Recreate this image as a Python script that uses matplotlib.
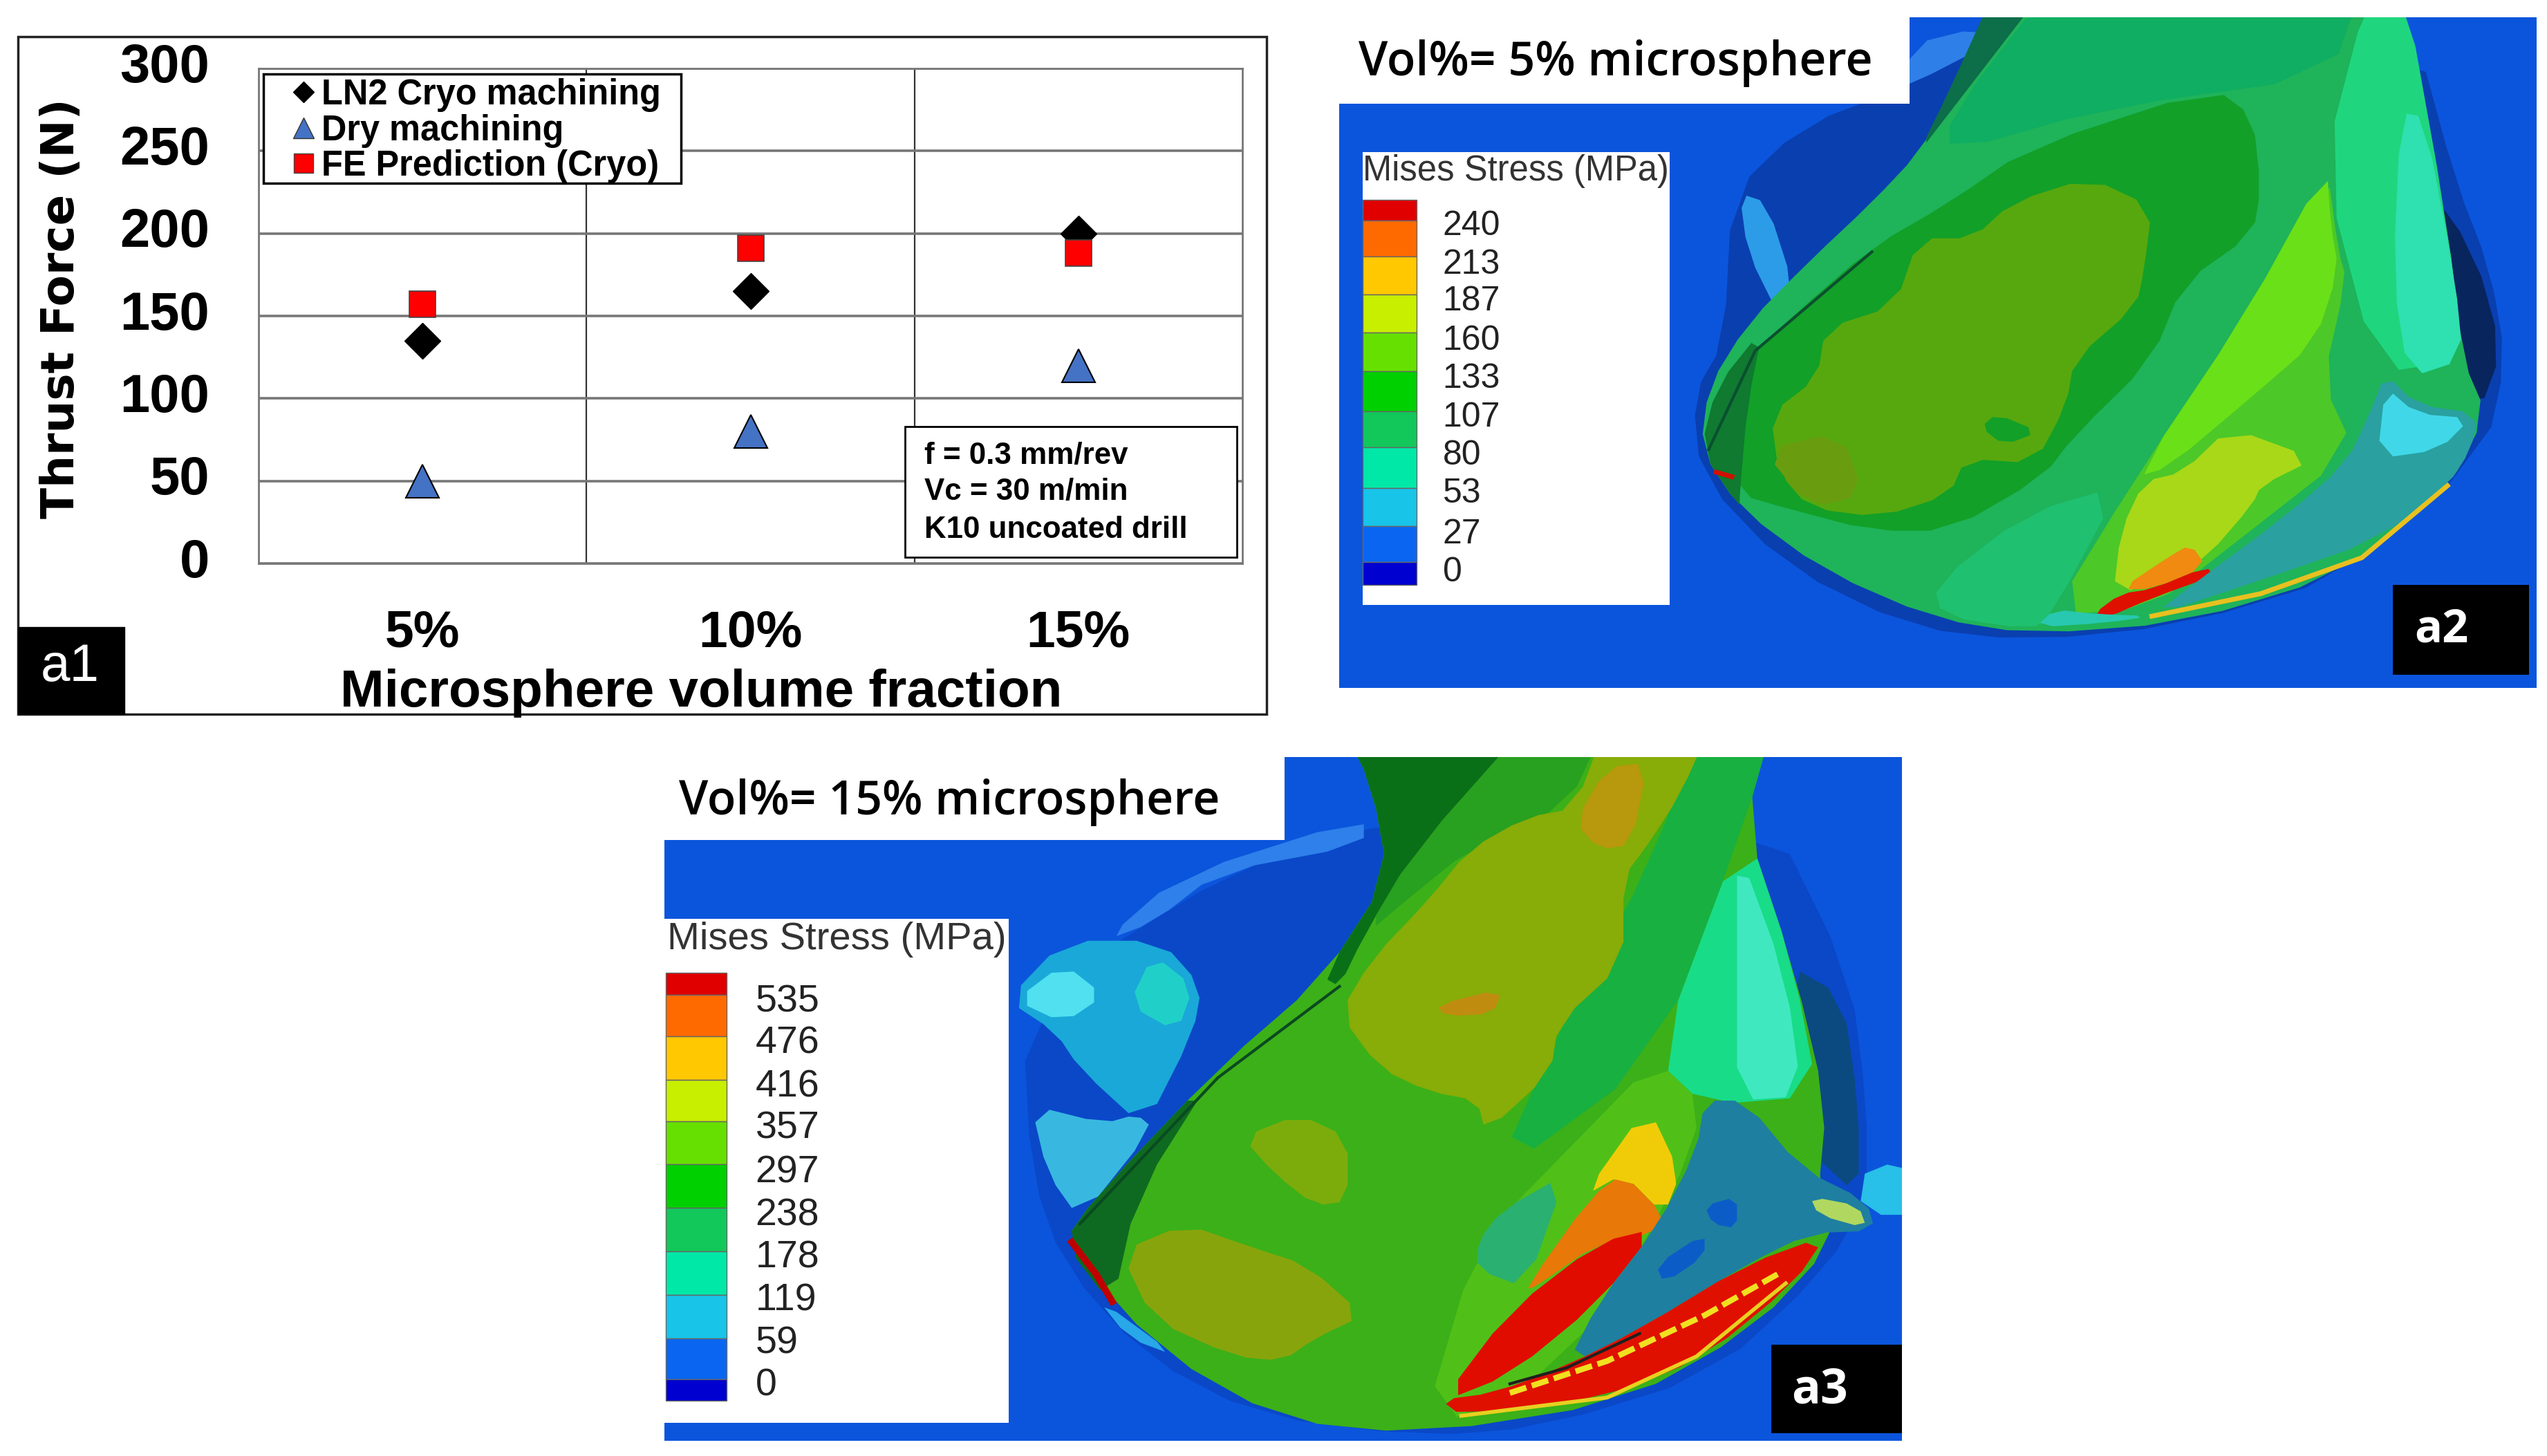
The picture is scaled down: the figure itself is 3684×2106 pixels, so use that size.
import matplotlib
matplotlib.use("Agg")
import matplotlib.pyplot as plt
from matplotlib.lines import Line2D
from matplotlib.patches import Polygon, Rectangle
from matplotlib.transforms import Affine2D, ScaledTranslation

# chart values
fractions = ["5%", "10%", "15%"]
cryo = [135, 165, 200]
dry = [50, 80, 120]
fe = [157, 191, 188]
yticks = [0, 50, 100, 150, 200, 250, 300]

# stress scales
stress_colors = ["#e00000", "#ff6a00", "#ffc800", "#c8ee00", "#66e000", "#00d000",
                 "#12c85a", "#00e8a8", "#18c4e8", "#0a66f0", "#0000d0"]
stress_a2 = [240, 213, 187, 160, 133, 107, 80, 53, 27, 0]
stress_a3 = [535, 476, 416, 357, 297, 238, 178, 119, 59, 0]

W, H = 3684, 2106
plt.rcParams["font.family"] = ["Liberation Sans", "DejaVu Sans"]
fig = plt.figure(figsize=(W / 100, H / 100), dpi=100)
px = Affine2D().scale(1 / W, -1 / H).translate(0, 1) + fig.transFigure

bg = fig.add_axes([0, 0, 1, 1], zorder=0)
bg.set_xlim(0, W)
bg.set_ylim(H, 0)
bg.axis("off")


def a2(p):
    return [(1920 + x * 1764 / 1568, y * 1020 / 1568) for x, y in p]


def a3(p):
    return [(940 + x * 1840 / 1568, 1070 + y * 1036 / 1568) for x, y in p]


def round_off(pts, n=1):
    # corner cutting, takes the hard edge off the FE shapes
    for _ in range(n):
        out = []
        for i, (x, y) in enumerate(pts):
            x2, y2 = pts[(i + 1) % len(pts)]
            out.append((0.75 * x + 0.25 * x2, 0.75 * y + 0.25 * y2))
            out.append((0.25 * x + 0.75 * x2, 0.25 * y + 0.75 * y2))
        pts = out
    return pts


def shape(pts, color, z=2, clip=None):
    p = Polygon(pts, closed=True, fc=color, ec=color, lw=0, zorder=z)
    bg.add_patch(p)
    if clip is not None:
        p.set_clip_path(clip)
    return p


# ---- a1 frame
bg.add_patch(Rectangle((26, 53), 1806, 980, fc="white", ec="#222222", lw=2.5, zorder=1))
bg.add_patch(Rectangle((26, 907), 154, 126, fc="black", ec="black", zorder=5))
bg.text(101, 965, "a1", color="white", fontsize=55, ha="center", va="center", zorder=6)

# ---- a2 panel
BLUE = "#0b55dc"
shape(a2([(15, 230), (748, 230), (748, 38), (1555, 38), (1555, 1530), (15, 1530)]), BLUE, 2)
xa, ya = a2([(15, 38)])[0]
xb, yb = a2([(1555, 1530)])[0]
clip2 = Rectangle((xa, ya), xb - xa, yb - ya, transform=bg.transData)
a2_layers = [
    ([(748, 100), (840, 60), (860, 110), (790, 190), (748, 230)], "#2f7fe8"),
    ([(520, 430), (610, 280), (748, 190), (860, 90), (1400, 80), (1450, 400), (1495, 600), (1515, 800),
      (1490, 1000), (1310, 1280), (1100, 1390), (900, 1425), (750, 1395), (590, 1260), (480, 1060),
      (470, 880), (510, 760)], "#0a3fb0"),
    ([(1400, 380), (1475, 560), (1510, 780), (1480, 920), (1440, 800)], "#08255e"),
    ([(530, 430), (565, 450), (600, 640), (580, 700), (540, 560)], "#2c9ce8"),
    # drill body
    ([(860, -30), (1375, -30), (1400, 180), (1440, 500), (1460, 800), (1490, 920), (1440, 1090), (1300, 1280),
      (1100, 1385), (905, 1410), (780, 1375), (640, 1270), (530, 1130), (480, 1000), (490, 860), (540, 720),
      (620, 580), (700, 450), (760, 340), (800, 220)], "#1fb35a"),
    ([(860, -30), (925, -30), (800, 250), (760, 340), (800, 200)], "#0d6e4a"),
    ([(930, -30), (1330, -30), (1290, 170), (1000, 240), (800, 340), (800, 260)], "#0fae62"),
    # right flank
    ([(1340, -30), (1385, -30), (1440, 500), (1460, 800), (1350, 830), (1280, 370)], "#1fd67e"),
    ([(1380, 250), (1410, 260), (1450, 620), (1460, 800), (1390, 840), (1370, 620)], "#2fe0b0"),
    # dark green land
    ([(900, 330), (1140, 195), (1190, 260), (1200, 420), (1190, 520), (1100, 630), (1060, 800), (960, 970),
      (920, 1060), (800, 1180), (700, 1180), (590, 1130), (530, 1100), (500, 950), (540, 800), (600, 700),
      (700, 550), (800, 450)], "#12a028"),
    # olive land
    ([(980, 395), (1060, 460), (1050, 600), (1040, 680), (960, 800), (950, 900), (910, 1030), (820, 1020),
      (800, 1100), (710, 1150), (620, 1130), (580, 1050), (570, 920), (630, 840), (640, 730), (730, 680),
      (760, 530), (830, 530), (880, 450)], "#57a80e"),
    ([(840, 950), (860, 920), (915, 960), (870, 990)], "#12a028"),
    ([(560, 1000), (660, 960), (690, 1100), (620, 1130)], "#6a9c10"),
    # dark lower left
    ([(480, 1000), (500, 860), (560, 730), (540, 900), (530, 1100), (530, 1130)], "#0f7a30"),
    # flute
    ([(1285, 370), (1300, 560), (1310, 620), (1280, 850), (1320, 1000), (1150, 1230), (1060, 1350), (930, 1370),
      (1040, 1060), (1180, 700)], "#4cc828"),
    ([(1285, 370), (1290, 500), (1300, 600), (1270, 760), (1190, 880), (1080, 1040), (1040, 1060), (1180, 700)],
     "#6ae018"),
    ([(1050, 1070), (1100, 1050), (1160, 950), (1270, 1020), (1200, 1080), (1190, 1120), (1130, 1240),
      (1100, 1260), (1010, 1330), (1020, 1180)], "#a8d818"),
    ([(1020, 1310), (1080, 1240), (1110, 1210), (1130, 1260), (1060, 1310)], "#f08a10"),
    ([(985, 1365), (1020, 1320), (1060, 1310), (1130, 1260), (1140, 1280), (1060, 1330), (1000, 1375)], "#e01000"),
    # flute edge teal
    ([(790, 1370), (780, 1300), (900, 1140), (1020, 1080), (930, 1370), (905, 1400)], "#1fc070"),
    # blade
    ([(1360, 830), (1400, 900), (1480, 920), (1470, 1000), (1440, 1080), (1350, 1200), (1200, 1290), (1060, 1370),
      (1120, 1290), (1230, 1150), (1310, 1030), (1340, 920)], "#2aa0a0"),
    ([(1360, 860), (1400, 920), (1470, 930), (1430, 1000), (1350, 1020)], "#40d8e8"),
    ([(910, 1395), (935, 1355), (985, 1365), (1060, 1370), (1000, 1385)], "#28c8b0"),
]
for pts, color in a2_layers:
    shape(round_off(a2(pts)), color, 3, clip2)
bg.plot(*zip(*a2([(1060, 1370), (1200, 1320), (1330, 1240), (1440, 1080)])), color="#e8c020", lw=5, zorder=4)
bg.plot(*zip(*a2([(500, 1050), (520, 1060)])), color="#d01000", lw=5, zorder=4)
bg.plot(*zip(*a2([(490, 1000), (550, 780), (700, 560)])), color="#0b4f30", lw=3, zorder=4)

(xa, ya), (xb, yb) = a2([(15, 38), (748, 230)])
bg.add_patch(Rectangle((xa, ya), xb - xa, yb - ya, fc="white", ec="none", zorder=4.5))

x0, y0 = a2([(45, 338)])[0]
x1, y1 = a2([(440, 1345)])[0]
bg.add_patch(Rectangle((x0, y0), x1 - x0, y1 - y0, fc="white", ec="none", zorder=5))
bg.text(a2([(242, 380)])[0][0], a2([(242, 380)])[0][1], "Mises Stress (MPa)", fontsize=36.5, color="#333333",
        ha="center", va="center", zorder=6)
a2_edges = [445, 490, 570, 655, 740, 825, 915, 995, 1085, 1170, 1250, 1300]
for i, c in enumerate(stress_colors):
    (xa, ya), (xb, yb) = a2([(45, a2_edges[i]), (115, a2_edges[i + 1])])
    bg.add_patch(Rectangle((xa, ya), xb - xa, yb - ya, fc=c, ec="#666666", lw=1, zorder=6))
a2_label_y = [503, 588, 671, 758, 843, 928, 1013, 1098, 1188, 1273]
for v, y in zip(stress_a2, a2_label_y):
    lx, ly = a2([(148, y)])[0]
    bg.text(lx, ly, str(v), fontsize=36, color="#222222", ha="left", va="center", zorder=6)
lx, ly = a2([(1370, 1300)])[0]
rx, ry = a2([(1545, 1500)])[0]
bg.add_patch(Rectangle((lx, ly), rx - lx, ry - ly, fc="black", zorder=7))
tx, ty = a2([(1432, 1400)])[0]
bg.text(tx, ty, "a2", color="white", fontsize=48, family="Open Sans", weight="bold",
        ha="center", va="center", zorder=8)
tx, ty = a2([(40, 141)])[0]
bg.text(tx, ty, "Vol%= 5% microsphere", fontsize=49, family="Open Sans", weight="semibold",
        ha="left", va="center", zorder=8)

# ---- a3 panel
shape(a3([(18, 220), (782, 220), (782, 38), (1543, 38), (1543, 1535), (18, 1535)]), BLUE, 2)
xa, ya = a3([(18, 38)])[0]
xb, yb = a3([(1543, 1535)])[0]
clip3 = Rectangle((xa, ya), xb - xa, yb - ya, transform=bg.transData)
a3_layers = [
    ([(460, 620), (610, 390), (880, 160), (1380, 160), (1480, 520), (1500, 800), (1500, 1000), (1450, 1160),
      (1310, 1390), (1100, 1505), (950, 1525), (750, 1480), (610, 1350), (510, 1150), (470, 950)], "#0a48c8"),
    ([(650, 300), (880, 170), (880, 230), (700, 290), (620, 400), (560, 440)], "#2f80ea"),
    ([(1400, 490), (1470, 560), (1490, 800), (1490, 1000), (1430, 900)], "#0b4a80"),
    ([(1500, 920), (1600, 960), (1600, 1040), (1490, 1040)], "#28bfe8"),
    ([(440, 570), (510, 440), (630, 440), (680, 540), (670, 640), (610, 850), (530, 720), (500, 640)], "#1aa8d8"),
    ([(450, 570), (510, 490), (560, 560), (510, 620)], "#50e0f0"),
    ([(620, 470), (670, 540), (650, 640), (590, 580)], "#20d0c8"),
    ([(470, 800), (560, 840), (600, 820), (620, 850), (530, 1050), (490, 950)], "#38b8e0"),
    ([(550, 1220), (650, 1350), (590, 1310)], "#28a8e8"),
    # drill body
    ([(850, -40), (1385, -40), (1350, 180), (1410, 500), (1450, 800), (1440, 1000), (1460, 1100), (1360, 1290),
      (1200, 1450), (950, 1520), (780, 1490), (630, 1340), (510, 1100), (550, 1000), (700, 720), (830, 520),
      (910, 300), (890, 100)], "#3cb018"),
    # right flank
    ([(1350, 180), (1410, 500), (1440, 780), (1300, 800), (1240, 700)], "#18dc88"),
    ([(1340, 230), (1400, 520), (1420, 780), (1340, 790), (1340, 500)], "#40e8c0"),
    # dark shank
    ([(850, -40), (1085, -40), (940, 250), (880, 430), (850, 540), (830, 520), (910, 300), (890, 100)], "#0a7018"),
    ([(1085, -40), (1180, -40), (1130, 150), (1010, 240), (940, 340), (880, 430), (940, 250)], "#28a020"),
    ([(1290, -40), (1385, -40), (1350, 180), (1240, 700), (1040, 960), (1130, 600), (1240, 250)], "#18b040"),
    # olive
    ([(1180, -40), (1310, -40), (1270, 120), (1230, 230), (1200, 300), (1200, 490), (1120, 620), (1110, 730),
      (1030, 860), (1020, 790), (960, 770), (900, 720), (850, 600), (890, 480), (960, 350), (1010, 240),
      (1080, 170), (1140, 150)], "#88ac08"),
    ([(1180, 60), (1230, 50), (1210, 230), (1170, 240), (1140, 180)], "#b8980c"),
    ([(970, 580), (1050, 545), (1040, 600), (980, 605)], "#c08c10"),
    ([(580, 1120), (660, 1060), (740, 1110), (810, 1150), (880, 1260), (820, 1310), (780, 1360), (720, 1350),
      (620, 1270)], "#88a40c"),
    ([(730, 870), (800, 820), (860, 870), (860, 1010), (820, 1020), (770, 950)], "#7cac0c"),
    # dark lower left
    ([(510, 1100), (550, 1000), (700, 720), (600, 1000), (570, 1240)], "#0e6a20"),
    # flute
    ([(1240, 700), (1300, 800), (1260, 1000), (1130, 1370), (950, 1520), (1020, 1100), (1130, 900)], "#50c018"),
    ([(1020, 1100), (1050, 1030), (1130, 950), (1080, 1200), (1020, 1160)], "#2ab070"),
    ([(1150, 1000), (1230, 800), (1270, 950), (1250, 1040), (1200, 950)], "#f0cc08"),
    ([(1080, 1200), (1160, 1000), (1200, 950), (1250, 1040), (1240, 1080), (1170, 1100), (1090, 1200)], "#e87808"),
    ([(975, 1450), (1060, 1250), (1170, 1100), (1240, 1070), (1170, 1230), (1060, 1390)], "#e00c00"),
    # blade
    ([(1300, 790), (1350, 790), (1420, 940), (1500, 1010), (1510, 1075), (1430, 1080), (1350, 1150), (1220, 1290),
      (1130, 1370), (1170, 1230), (1240, 1070), (1290, 900)], "#1e7fa0"),
    ([(1300, 1020), (1340, 1000), (1340, 1070), (1310, 1060)], "#0c5cc8"),
    ([(1240, 1150), (1300, 1080), (1300, 1130), (1250, 1190)], "#0c5cc8"),
    ([(1430, 1000), (1490, 1020), (1500, 1070), (1440, 1040)], "#b0d860"),
    # cutting edge
    ([(1450, 1085), (1410, 1190), (1300, 1350), (1180, 1440), (1000, 1480), (975, 1445), (1040, 1430), (1130, 1370),
      (1220, 1290), (1350, 1150)], "#e01000"),
]
for pts, color in a3_layers:
    shape(round_off(a3(pts)), color, 3, clip3)
bg.plot(*zip(*a3([(1060, 1430), (1180, 1360), (1300, 1260), (1390, 1170)])), color="#f0e020", lw=6,
        ls=(0, (3, 1)), zorder=4)
bg.plot(*zip(*a3([(1000, 1480), (1180, 1440), (1290, 1350), (1400, 1190)])), color="#e8d020", lw=4, zorder=4)
bg.plot(*zip(*a3([(1060, 1410), (1130, 1375), (1220, 1300)])), color="#202020", lw=3, zorder=4)
bg.plot(*zip(*a3([(520, 1100), (550, 1170), (570, 1230)])), color="#c00000", lw=7, zorder=4)
bg.plot(*zip(*a3([(530, 1060), (700, 740), (850, 540)])), color="#0a4a20", lw=3, zorder=4)

(xa, ya), (xb, yb) = a3([(18, 38), (782, 220)])
bg.add_patch(Rectangle((xa, ya), xb - xa, yb - ya, fc="white", ec="none", zorder=4.5))

x0, y0 = a3([(18, 392)])[0]
x1, y1 = a3([(442, 1495)])[0]
bg.add_patch(Rectangle((x0, y0), x1 - x0, y1 - y0, fc="white", ec="none", zorder=5))
bg.text(a3([(230, 438)])[0][0], a3([(230, 438)])[0][1], "Mises Stress (MPa)", fontsize=40.5, color="#333333",
        ha="center", va="center", zorder=6)
a3_edges = [510, 558, 650, 745, 835, 930, 1025, 1120, 1215, 1310, 1400, 1447]
for i, c in enumerate(stress_colors):
    (xa, ya), (xb, yb) = a3([(20, a3_edges[i]), (95, a3_edges[i + 1])])
    bg.add_patch(Rectangle((xa, ya), xb - xa, yb - ya, fc=c, ec="#666666", lw=1, zorder=6))
a3_label_y = [575, 665, 760, 852, 948, 1042, 1135, 1228, 1322, 1415]
for v, y in zip(stress_a3, a3_label_y):
    lx, ly = a3([(130, y)])[0]
    bg.text(lx, ly, str(v), fontsize=40, color="#222222", ha="left", va="center", zorder=6)
lx, ly = a3([(1382, 1325)])[0]
rx, ry = a3([(1543, 1518)])[0]
bg.add_patch(Rectangle((lx, ly), rx - lx, ry - ly, fc="black", zorder=7))
tx, ty = a3([(1442, 1425)])[0]
bg.text(tx, ty, "a3", color="white", fontsize=50, family="Open Sans", weight="bold",
        ha="center", va="center", zorder=8)
tx, ty = a3([(36, 137)])[0]
bg.text(tx, ty, "Vol%= 15% microsphere", fontsize=49, family="Open Sans", weight="semibold",
        ha="left", va="center", zorder=8)

# ---- a1 chart
ax = fig.add_axes([374 / W, 1 - 815 / H, (1797 - 374) / W, (815 - 99) / H], zorder=1)
xs = [1, 2, 3]
ax.plot(xs, cryo, "D", color="black", ms=26, mec="black", zorder=3)
ax.plot(xs, dry, "^", color="#4472c4", ms=34, mec="black", mew=1.5, zorder=3)
ax.plot(xs, fe, "s", color="#ff0000", ms=28, mec="#444444", mew=1.2, zorder=4)
ax.set_xlim(0.5, 3.5)
ax.set_ylim(0, 300)
ax.set_xticks(xs)
ax.set_xticklabels(fractions)
ax.set_yticks(yticks)
ax.set_xticks([1.5, 2.5], minor=True)
ax.tick_params(axis="both", which="both", length=0)
ax.tick_params(axis="x", which="major", pad=48, labelsize=54)
ax.tick_params(axis="y", pad=51, labelsize=56)
up = ScaledTranslation(0, 9 / 100, fig.dpi_scale_trans)
for lab in ax.get_xticklabels() + ax.get_yticklabels():
    lab.set_fontweight("bold")
for lab in ax.get_yticklabels():
    lab.set_transform(lab.get_transform() + up)
ax.grid(axis="y", color="#777777", lw=2.6)
ax.grid(axis="x", which="minor", color="#333333", lw=1.6)
ax.set_axisbelow(True)
for s in ax.spines.values():
    s.set_color("#777777")
    s.set_linewidth(2)
ax.set_ylabel("Thrust Force (N)", fontsize=47.5, family="DejaVu Sans", weight="bold", va="center")
ax.yaxis.set_label_coords(-0.2, 0.515)
ax.set_xlabel("Microsphere volume fraction", fontsize=55, weight="bold", va="center")
ax.xaxis.set_label_coords(0.45, -0.262)

handles = [
    Line2D([], [], ls="none", marker="D", ms=15, color="black"),
    Line2D([], [], ls="none", marker="^", ms=22, color="#4472c4", mec="#333333", mew=1),
    Line2D([], [], ls="none", marker="s", ms=20, color="#ff0000", mec="#444444", mew=1),
]
ax.add_patch(Rectangle((381, 107), 604, 158, transform=px, fc="white", ec="black", lw=2.5, zorder=5, clip_on=False))
leg = ax.legend(handles, ["LN2 Cryo machining", "Dry machining", "FE Prediction (Cryo)"],
                loc="upper left", bbox_to_anchor=((419 - 374) / 1423, 1 - (113 - 99) / 716), borderaxespad=0,
                prop={"size": 36.4, "weight": "bold"}, labelspacing=0.05, handletextpad=0.12, handlelength=0.79,
                borderpad=0, frameon=False)
leg.set_zorder(6)

ax.add_patch(Rectangle((1309, 617), 480, 189, transform=px, fc="white", ec="black", lw=2, zorder=6, clip_on=False))
for y, line in zip([659, 712, 766], ["f = 0.3 mm/rev", "Vc = 30 m/min", "K10 uncoated drill"]):
    ax.text(1337, y, line, transform=px, fontsize=31.6, weight="bold", ha="left", va="center", zorder=7)

fig.savefig("out.png", dpi=100, facecolor="white")
